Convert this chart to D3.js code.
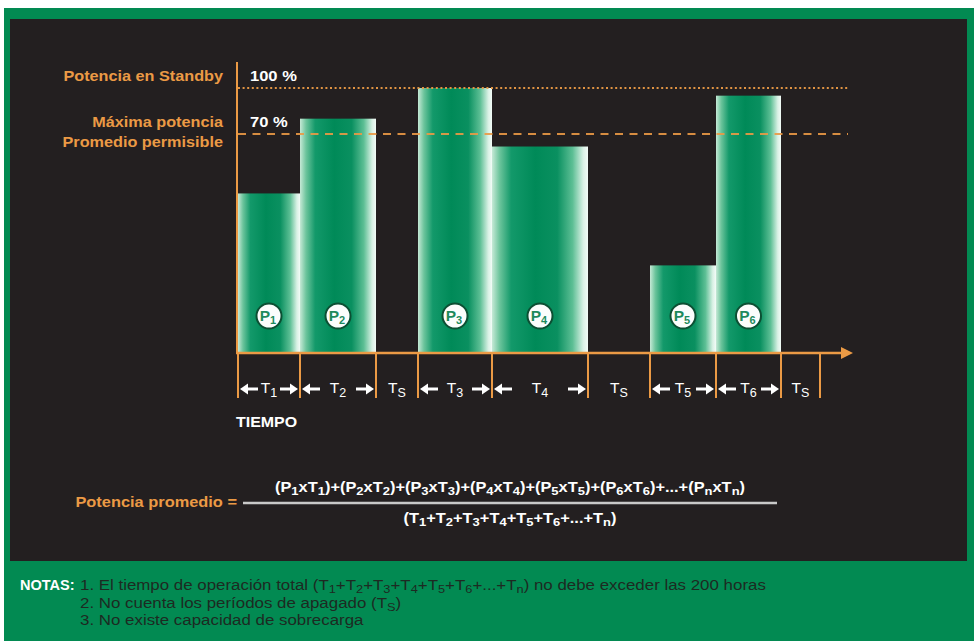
<!DOCTYPE html>
<html><head><meta charset="utf-8">
<script src="https://cdn.jsdelivr.net/npm/d3@7"></script>
<style>html,body{margin:0;padding:0;background:#fff;}svg{display:block;}</style>
</head><body>
<script>
// ---- data ----
const segments   = ["P1","P2","Ts","P3","P4","Ts","P5","P6","Ts"];
const durations  = [62, 76, 42, 74, 96, 62, 66, 65, 39];
const powers     = [51, 80, null, 100, 66, null, 28, 95, null];
const refValues  = [100, 70];
const refLabels  = ["100 %", "70 %"];
const refNames   = [["Potencia en Standby"], ["Máxima potencia", "Promedio permisible"]];
const numerator  = "(P_1xT_1)+(P_2xT_2)+(P_3xT_3)+(P_4xT_4)+(P_5xT_5)+(P_6xT_6)+...+(P_nxT_n)";
const denominator= "(T_1+T_2+T_3+T_4+T_5+T_6+...+T_n)";
const notes = [
  "1. El tiempo de operación total (T_1+T_2+T_3+T_4+T_5+T_6+...+T_n) no debe exceder las 200 horas",
  "2. No cuenta los períodos de apagado (T_S)",
  "3. No existe capacidad de sobrecarga"
];

const W = 974, H = 641;
const ORANGE = "#eb9a45", FONT = "'Liberation Sans', Arial, Helvetica, sans-serif";
const svg = d3.select("body").append("svg").attr("width", W).attr("height", H)
  .style("font-family", FONT);

// background frame
svg.append("rect").attr("x",0).attr("y",0).attr("width",W).attr("height",H).attr("fill","#fff");
svg.append("rect").attr("x",4).attr("y",8).attr("width",W-4).attr("height",H-8).attr("fill","#028a52");
svg.append("rect").attr("x",10).attr("y",19).attr("width",957).attr("height",542).attr("fill","#231f20");

// gradient
const defs = svg.append("defs");
const g = defs.append("linearGradient").attr("id","barGrad").attr("x1",0).attr("x2",1).attr("y1",0).attr("y2",0);
[[0,"#c6e9d6"],[0.08,"#6cc49c"],[0.2,"#13996a"],[0.45,"#008a58"],[0.68,"#0a9060"],[0.84,"#5dbf95"],[0.95,"#d9f1e5"],[1,"#f3fbf7"]]
  .forEach(([o,c]) => g.append("stop").attr("offset",o).attr("stop-color",c));

// scales
const starts = []; let acc = 0;
durations.forEach(d => { starts.push(acc); acc += d; });
const total = acc;
const x = d3.scaleLinear().domain([0, total]).range([238, 820]);
const y = d3.scaleLinear().domain([0, 70, 100]).range([353, 134, 88]);

// rich text helper: "_c" => subscript char
function rich(sel, str, size, subSize, shift) {
  const parts = [];
  for (let i = 0; i < str.length; i++) {
    if (str[i] === "_" && i + 1 < str.length) { parts.push({t: str[i+1], sub: true}); i++; }
    else {
      if (parts.length && !parts[parts.length-1].sub) parts[parts.length-1].t += str[i];
      else parts.push({t: str[i], sub: false});
    }
  }
  let prevSub = false;
  parts.forEach(p => {
    const ts = sel.append("tspan").text(p.t);
    if (p.sub) { ts.attr("font-size", subSize).attr("dy", prevSub ? 0 : shift); }
    else { ts.attr("font-size", size).attr("dy", prevSub ? -shift : 0); }
    prevSub = p.sub;
  });
  return sel;
}
// horizontally stretched text
function stext(parent, px, py, sx, anchor) {
  return parent.append("g").attr("transform", `translate(${px},${py}) scale(${sx},1)`)
    .append("text").attr("text-anchor", anchor || "start");
}

// bars
const bars = segments.map((s,i) => ({s, start: starts[i], dur: durations[i], p: powers[i]}));
const chart = svg.append("g");
chart.selectAll("rect.bar").data(bars.filter(d => d.p != null)).join("rect")
  .attr("class","bar")
  .attr("x", d => x(d.start)).attr("width", d => x(d.start + d.dur) - x(d.start))
  .attr("y", d => y(d.p)).attr("height", d => y(0) - y(d.p))
  .attr("fill","url(#barGrad)");

// reference lines
svg.append("line").attr("x1",238).attr("x2",848).attr("y1",y(refValues[0])).attr("y2",y(refValues[0]))
  .attr("stroke",ORANGE).attr("stroke-width",2.2).attr("stroke-dasharray","2,2.6").attr("opacity",0.95);
svg.append("line").attr("x1",238).attr("x2",848).attr("y1",y(refValues[1])).attr("y2",y(refValues[1]))
  .attr("stroke",ORANGE).attr("stroke-width",2.2).attr("stroke-dasharray","8,6.5").attr("opacity",0.9);

// reference labels
refValues.forEach((v,i) => {
  stext(svg, 250, y(v) - 7, 1.14).attr("fill","#fff")
    .attr("font-weight","bold").attr("font-size",14.5).text(refLabels[i]);
  refNames[i].forEach((n,j) => {
    stext(svg, 223, y(v) - 7 + j*20, 1.12, "end")
      .attr("fill",ORANGE).attr("font-weight","bold").attr("font-size",14.5).text(n);
  });
});

// axes
svg.append("line").attr("x1",237).attr("x2",237).attr("y1",62).attr("y2",y(0)+1)
  .attr("stroke",ORANGE).attr("stroke-width",2);
svg.append("line").attr("x1",236).attr("x2",843).attr("y1",y(0)).attr("y2",y(0))
  .attr("stroke",ORANGE).attr("stroke-width",2.5);
svg.append("path").attr("d",`M841,${y(0)-6}L853,${y(0)}L841,${y(0)+6}Z`).attr("fill",ORANGE);
const bounds = starts.concat([total]);
svg.selectAll("line.tick").data(bounds).join("line").attr("class","tick")
  .attr("x1", d => x(d)).attr("x2", d => x(d)).attr("y1", y(0)).attr("y2", 398)
  .attr("stroke",ORANGE).attr("stroke-width",2);

// P circles
const pLabels = bars.filter(d => d.p != null);
const pg = svg.selectAll("g.plab").data(pLabels).join("g").attr("class","plab")
  .attr("transform", d => `translate(${(x(d.start)+x(d.start+d.dur))/2},316)`);
pg.append("circle").attr("r",12.5).attr("fill","#fbfdfc").attr("stroke","#0c4f33").attr("stroke-width",2);
pg.append("text").attr("x",-1).attr("y",4.5).attr("text-anchor","middle").attr("fill","#1e8a5c")
  .attr("font-weight","bold")
  .each(function(d){ rich(d3.select(this), d.s[0] + "_" + d.s[1], 15.5, 11, 3); });

// time labels
function arrow(sel, tipX, dir, yy) {
  const len = 18, hw = 5.5, hl = 8;
  const tail = tipX + dir*len;
  sel.append("line").attr("x1", tipX + dir*hl*0.8).attr("x2", tail).attr("y1",yy).attr("y2",yy)
    .attr("stroke","#fff").attr("stroke-width",3);
  sel.append("path").attr("d",`M${tipX},${yy}L${tipX+dir*hl},${yy-hw}L${tipX+dir*hl},${yy+hw}Z`).attr("fill","#fff");
}
const tl = svg.append("g");
bars.forEach((d,i) => {
  const x0 = x(d.start), x1 = x(d.start + d.dur), cx = (x0+x1)/2;
  const lab = d.p != null ? "T_" + d.s[1] : "T_S";
  tl.append("text").attr("x", cx).attr("y", 393).attr("text-anchor","middle").attr("fill","#fff")
    .call(s => rich(s, lab, 15.5, 12.5, 4));
  if (d.p != null) {
    arrow(tl, x0 + 2, 1, 389);
    arrow(tl, x1 - 2, -1, 389);
  }
});
stext(svg, 236, 427, 1.1).attr("fill","#fff").attr("font-weight","bold")
  .attr("font-size",14.5).text("TIEMPO");

// formula
stext(svg, 237, 507, 1.13, "end").attr("fill",ORANGE)
  .attr("font-weight","bold").attr("font-size",14.5).text("Potencia promedio =");
svg.append("line").attr("x1",243).attr("x2",777).attr("y1",503).attr("y2",503)
  .attr("stroke","#c9c9c9").attr("stroke-width",2.5);
stext(svg, 510, 492, 1.13, "middle").attr("fill","#fff")
  .attr("font-weight","bold").call(s => rich(s, numerator, 14.5, 11.5, 3));
stext(svg, 510, 523, 1.13, "middle").attr("fill","#fff")
  .attr("font-weight","bold").call(s => rich(s, denominator, 14.5, 11.5, 3));

// notes
stext(svg, 20, 590, 1.0).attr("fill","#fff").attr("font-weight","bold")
  .attr("font-size",14.5).text("NOTAS:");
notes.forEach((n,i) => {
  stext(svg, 80, 590 + i*17.5, 1.165).attr("fill","#1d2a22")
    .call(s => rich(s, n, 14.5, 11, 3));
});
</script>
</body></html>
